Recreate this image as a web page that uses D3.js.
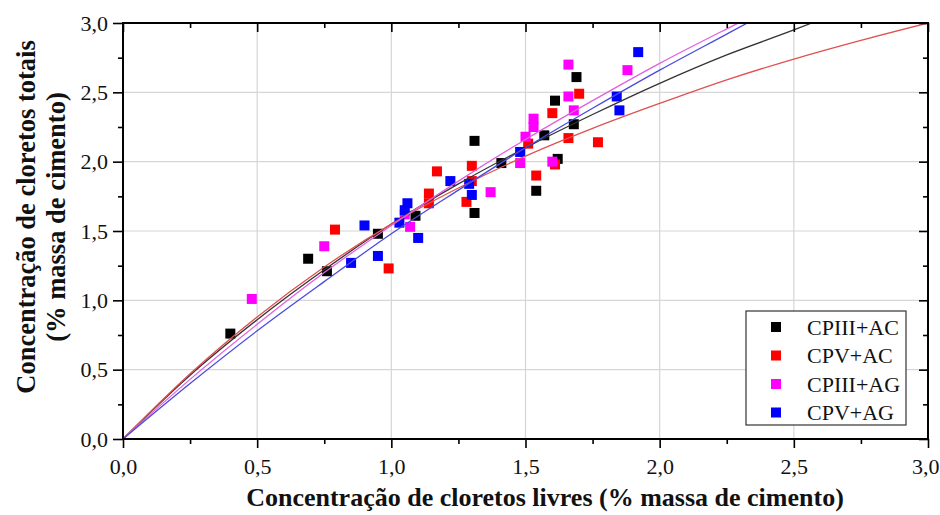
<!DOCTYPE html>
<html><head><meta charset="utf-8">
<script src="https://cdn.jsdelivr.net/npm/d3@7"></script>
<style>html,body{margin:0;padding:0;background:#fff;}svg{display:block;font-family:"Liberation Serif","Times New Roman",serif;}</style>
</head><body><svg id="c" width="940" height="515"></svg>
<script>
// ---- data ----
const seriesNames = ["CPIII+AC", "CPV+AC", "CPIII+AG", "CPV+AG"];
const seriesColors = ["#000000", "#ff0000", "#ff00ff", "#0000ff"];
const lineColors = ["#333333", "#e05050", "#e060e0", "#4a4ae0"];

const cp3acX = [0.40,0.69,0.76,0.95,1.09,1.31,1.31,1.41,1.54,1.57,1.62,1.61,1.68,1.69];
const cp3acY = [0.76,1.30,1.21,1.48,1.61,2.15,1.63,1.99,1.79,2.19,2.02,2.44,2.27,2.61];
const cpvacX = [0.79,0.99,1.14,1.14,1.17,1.28,1.30,1.30,1.51,1.54,1.60,1.61,1.66,1.70,1.77];
const cpvacY = [1.51,1.23,1.70,1.77,1.93,1.71,1.97,1.86,2.13,1.90,2.35,1.98,2.17,2.49,2.14];
const cp3agX = [0.48,0.75,1.05,1.07,1.37,1.48,1.50,1.53,1.53,1.60,1.66,1.66,1.68,1.88];
const cp3agY = [1.01,1.39,1.62,1.53,1.78,1.99,2.18,2.31,2.25,2.00,2.70,2.47,2.37,2.66];
const cpvagX = [0.85,0.90,0.95,1.03,1.05,1.06,1.10,1.22,1.29,1.30,1.48,1.84,1.85,1.92];
const cpvagY = [1.27,1.54,1.32,1.56,1.65,1.70,1.45,1.86,1.84,1.76,2.07,2.47,2.37,2.79];

// fitted curves, values
const fit3acX = [0,0.25,0.5,0.75,1.0,1.25,1.5,1.75,2.0,2.25,2.5,2.567];
const fit3acY = [0,0.46,0.86,1.22,1.55,1.84,2.10,2.34,2.565,2.77,2.95,3.0];
const fitvacX = [0,0.25,0.5,0.75,1.0,1.25,1.5,1.75,2.0,2.25,2.5,2.75,3.0];
const fitvacY = [0,0.47,0.88,1.24,1.55,1.81,2.04,2.24,2.42,2.59,2.74,2.875,3.0];
const fit3agX = [0,0.25,0.5,0.75,1.0,1.25,1.5,1.75,2.0,2.25,2.293];
const fit3agY = [0,0.43,0.827,1.20,1.54,1.86,2.16,2.44,2.709,2.958,3.0];
const fitvagX = [0,0.25,0.5,0.75,1.0,1.25,1.5,1.75,2.0,2.25,2.327];
const fitvagY = [0,0.40,0.78,1.135,1.48,1.795,2.10,2.385,2.66,2.92,3.0];

const majorTicks = [0,0.5,1.0,1.5,2.0,2.5,3.0];
const tickLabels = ["0,0","0,5","1,0","1,5","2,0","2,5","3,0"];
const minorTicks = [0.25,0.75,1.25,1.75,2.25,2.75];

const xTitle = "Concentração de cloretos livres (% massa de cimento)";
const yTitle1 = "Concentração de cloretos totais";
const yTitle2 = "(% massa de cimento)";

// ---- chart ----
const W = 940, H = 515;
const m = {left:123, right:12, top:23, bottom:76};
const FONT = "'Liberation Serif', 'Times New Roman', serif";
const svg = d3.select("#c");
const x = d3.scaleLinear().domain([0,3]).range([m.left, W - m.right]);
const y = d3.scaleLinear().domain([0,3]).range([H - m.bottom, m.top]);

const pts = [[cp3acX,cp3acY],[cpvacX,cpvacY],[cp3agX,cp3agY],[cpvagX,cpvagY]]
  .map(([a,b]) => a.map((v,i)=>[v,b[i]]));
const fits = [[fit3acX,fit3acY],[fitvacX,fitvacY],[fit3agX,fit3agY],[fitvagX,fitvagY]]
  .map(([a,b]) => a.map((v,i)=>[v,b[i]]));

// grid
const g = svg.append("g");
g.selectAll(".gx").data(majorTicks.slice(1,-1)).join("line")
  .attr("x1",d=>x(d)).attr("x2",d=>x(d)).attr("y1",y(0)).attr("y2",y(3))
  .attr("stroke","#d6d6d6").attr("stroke-width",1.2);
g.selectAll(".gy").data(majorTicks.slice(1,-1)).join("line")
  .attr("y1",d=>y(d)).attr("y2",d=>y(d)).attr("x1",x(0)).attr("x2",x(3))
  .attr("stroke","#d6d6d6").attr("stroke-width",1.2);

// markers
const sz = 10;
pts.forEach((p,k)=>{
  svg.append("g").selectAll("rect").data(p).join("rect")
    .attr("x",d=>x(d[0])-sz/2).attr("y",d=>y(d[1])-sz/2)
    .attr("width",sz).attr("height",sz).attr("fill",seriesColors[k]);
});

// fitted lines
svg.append("clipPath").attr("id","pc").append("rect")
  .attr("x",x(0)).attr("y",y(3)).attr("width",x(3)-x(0)).attr("height",y(0)-y(3));
const line = d3.line().x(d=>x(d[0])).y(d=>y(d[1])).curve(d3.curveMonotoneX);
fits.forEach((f,k)=>{
  svg.append("path").attr("d",line(f)).attr("fill","none")
    .attr("stroke",lineColors[k]).attr("stroke-width",1.3).attr("clip-path","url(#pc)");
});

// axes
const axB = d3.axisBottom(x).tickValues(majorTicks).tickFormat((d,i)=>tickLabels[i]).tickSize(9).tickPadding(10);
const axL = d3.axisLeft(y).tickValues(majorTicks).tickFormat((d,i)=>tickLabels[i]).tickSize(10).tickPadding(5);
const gB = svg.append("g").attr("transform",`translate(0,${y(0)})`).call(axB);
svg.append("g").attr("transform",`translate(${x(0)},0)`).call(axL);
svg.append("g").attr("transform",`translate(0,${y(0)})`).call(d3.axisBottom(x).tickValues(minorTicks).tickFormat("").tickSize(5));
svg.append("g").attr("transform",`translate(${x(0)},0)`).call(d3.axisLeft(y).tickValues(minorTicks).tickFormat("").tickSize(5));
// top/right inward ticks
svg.append("g").attr("transform",`translate(0,${y(3)})`).call(d3.axisBottom(x).tickValues(majorTicks).tickFormat("").tickSize(9));
svg.append("g").attr("transform",`translate(0,${y(3)})`).call(d3.axisBottom(x).tickValues(minorTicks).tickFormat("").tickSize(5));
svg.append("g").attr("transform",`translate(${x(3)},0)`).call(d3.axisLeft(y).tickValues(majorTicks).tickFormat("").tickSize(9));
svg.append("g").attr("transform",`translate(${x(3)},0)`).call(d3.axisLeft(y).tickValues(minorTicks).tickFormat("").tickSize(5));
svg.selectAll(".domain").remove();
svg.selectAll(".tick line").attr("stroke","#000").attr("stroke-width",1.6);
svg.selectAll(".tick text").attr("font-family",FONT).attr("font-size",22).attr("fill","#111");
// keep the last bottom label inside the page
gB.selectAll(".tick text").filter(d=>d===3).attr("text-anchor","end").attr("x",11);

// frame
svg.append("rect").attr("x",x(0)).attr("y",y(3)).attr("width",x(3)-x(0)).attr("height",y(0)-y(3))
  .attr("fill","none").attr("stroke","#000").attr("stroke-width",2);

// titles
svg.append("text").attr("x",545).attr("y",506).attr("text-anchor","middle")
  .attr("font-family",FONT).attr("font-size",26).attr("font-weight","bold").attr("fill","#111").text(xTitle);
svg.append("text").attr("transform",`translate(35,217) rotate(-90)`).attr("text-anchor","middle")
  .attr("font-family",FONT).attr("font-size",26.5).attr("font-weight","bold").attr("fill","#111").text(yTitle1);
svg.append("text").attr("transform",`translate(65,217) rotate(-90)`).attr("text-anchor","middle")
  .attr("font-family",FONT).attr("font-size",26.5).attr("font-weight","bold").attr("fill","#111").text(yTitle2);

// legend
const lg = svg.append("g");
lg.append("rect").attr("x",746).attr("y",311).attr("width",160).attr("height",114)
  .attr("fill","#fff").attr("stroke","#333").attr("stroke-width",1.2);
seriesNames.forEach((n,k)=>{
  const cy = 327 + k*28.5;
  lg.append("rect").attr("x",771).attr("y",cy-5).attr("width",10).attr("height",10).attr("fill",seriesColors[k]);
  lg.append("text").attr("x",807).attr("y",cy+7.5).attr("font-family",FONT).attr("font-size",22).attr("fill","#111").text(n);
});
</script></body></html>
